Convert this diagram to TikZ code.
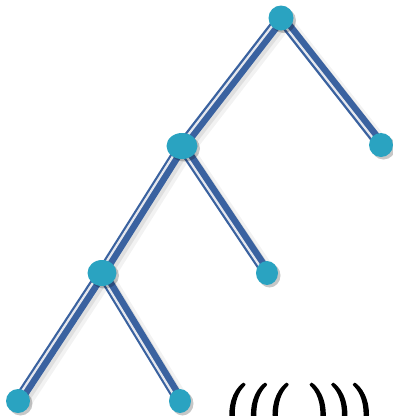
\documentclass[tikz,border=0pt]{standalone}
\usepackage{fontspec}
\usetikzlibrary{shadows,shapes.geometric}
\newfontfamily\heavyfont[FakeBold=4.5]{Latin Modern Roman}
\definecolor{nodecol}{HTML}{2AA3C1}
\definecolor{edgecol}{HTML}{3A62A0}
\definecolor{stripecol}{HTML}{E6E8EE}
\tikzset{
  x=1pt, y=-1pt,
  treenode/.style={ellipse, fill=nodecol, inner sep=0pt, draw=none,
    drop shadow={shadow xshift=2.5pt, shadow yshift=-2.5pt, opacity=0.22, fill=black}},
  edgeshadowa/.style={line width=14pt, draw=black, opacity=0.05, transform canvas={shift={(5pt,-4pt)}}},
  edgeshadowb/.style={line width=10pt, draw=black, opacity=0.08, transform canvas={shift={(3.5pt,-3pt)}}},
  edgemain/.style={line width=11pt, draw=edgecol},
  edgestripe/.style={line width=2.2pt, draw=stripecol, transform canvas={shift={(-2.6pt,0pt)}}},
}
\newcommand{\treeedge}[2]{%
  \draw[edgeshadowa] (#1) -- (#2);
  \draw[edgeshadowb] (#1) -- (#2);
  \draw[edgemain] (#1) -- (#2);
  \draw[edgestripe] (#1) -- (#2);
}
\begin{document}
\begin{tikzpicture}
\useasboundingbox (0,0) rectangle (393,416);
\coordinate (pr) at (281,18);
\coordinate (pa) at (182,146);
\coordinate (pb) at (381,145);
\coordinate (pc) at (102,273);
\coordinate (pd) at (267,273);
\coordinate (pe) at (18,401);
\coordinate (pf) at (180,401);
\treeedge{pr}{pa}
\treeedge{pr}{pb}
\treeedge{pa}{pc}
\treeedge{pa}{pd}
\treeedge{pc}{pe}
\treeedge{pc}{pf}
\node[treenode, minimum width=25pt, minimum height=25pt] (r) at (pr) {};
\node[treenode, minimum width=31pt, minimum height=26pt] (a) at (pa) {};
\node[treenode, minimum width=24pt, minimum height=24pt] (b) at (pb) {};
\node[treenode, minimum width=29pt, minimum height=26pt] (c) at (pc) {};
\node[treenode, minimum width=22pt, minimum height=24pt] (d) at (pd) {};
\node[treenode, minimum width=24pt, minimum height=24pt] (e) at (pe) {};
\node[treenode, minimum width=22pt, minimum height=24pt] (f) at (pf) {};
\node[anchor=base west, inner sep=0pt, font=\heavyfont\fontsize{61}{70}\selectfont] (t) at (225,430) {((( )))};
\end{tikzpicture}
\end{document}
